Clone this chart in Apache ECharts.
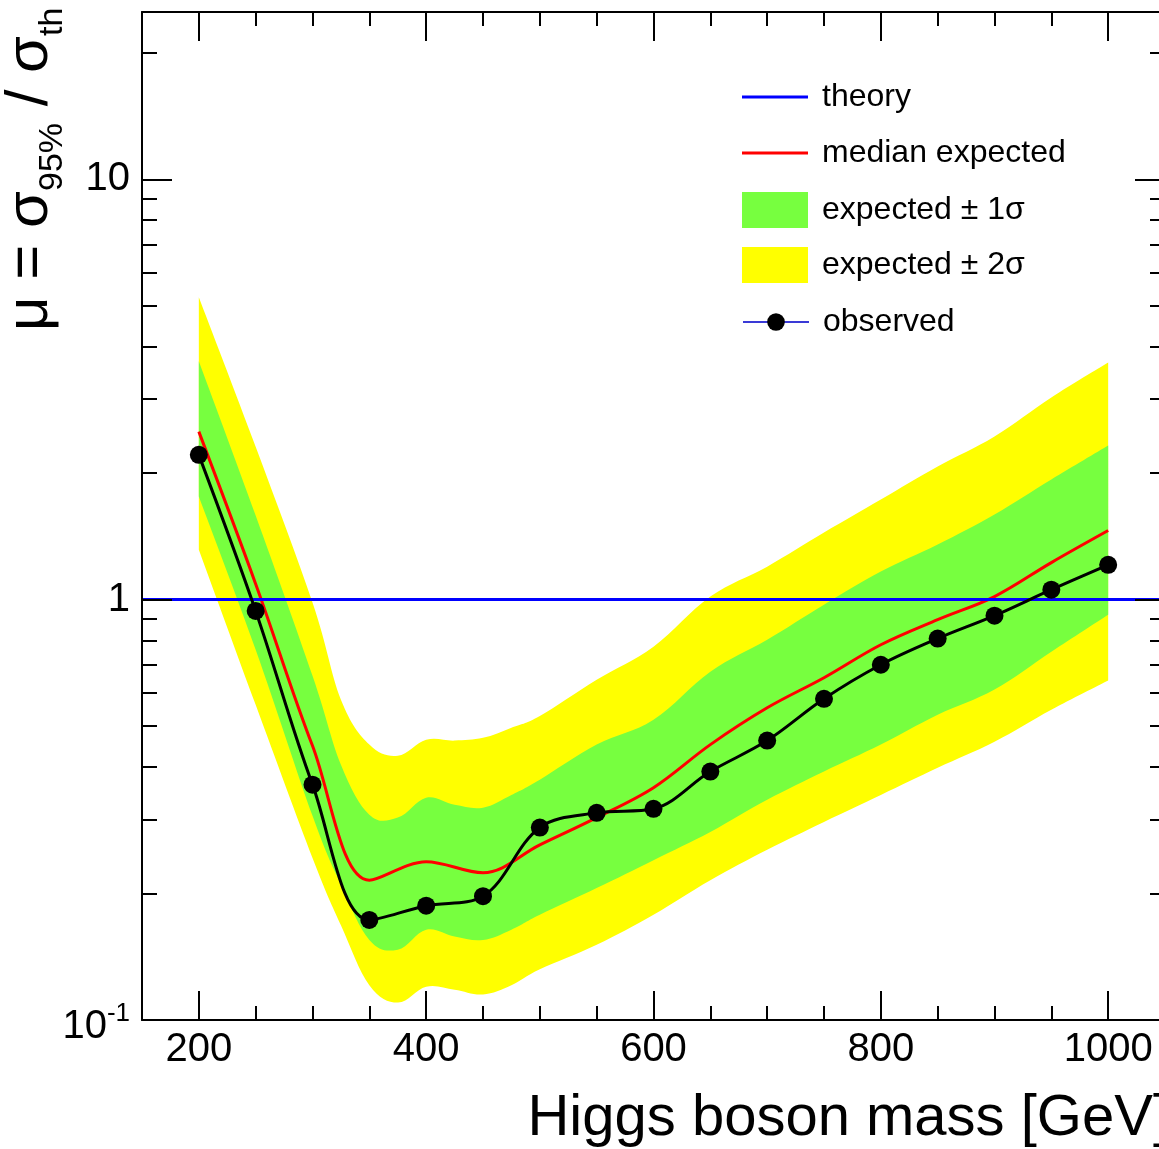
<!DOCTYPE html>
<html><head><meta charset="utf-8">
<script src="https://cdn.jsdelivr.net/npm/echarts@6/dist/echarts.min.js"></script>
<style>html,body{margin:0;padding:0;background:#fff;overflow:hidden}#c{width:1159px;height:1149px}</style>
</head><body><div id="c"></div>
<script>
// ---- data ----
const masses = [200,250,300,350,400,450,500,550,600,650,700,750,800,850,900,950,1000];
const observed = [2.21,0.94,0.363,0.173,0.187,0.197,0.287,0.311,0.318,0.390,0.462,0.581,0.700,0.808,0.916,1.056,1.21];
const medianExpected = [2.51,1.09,0.449,0.215,0.238,0.224,0.261,0.303,0.357,0.452,0.553,0.652,0.781,0.896,1.017,1.225,1.46];

const bandMasses = [200,250,300,325,350,375,400,425,450,475,500,550,600,650,700,750,800,850,900,950,1000];
const plus2Sigma  = [5.24,2.31,0.984,0.578,0.452,0.425,0.464,0.462,0.469,0.496,0.529,0.645,0.773,1.017,1.198,1.444,1.730,2.073,2.444,3.027,3.667];
const plus1Sigma  = [3.69,1.585,0.659,0.405,0.308,0.303,0.338,0.325,0.320,0.343,0.373,0.452,0.518,0.674,0.803,0.973,1.166,1.352,1.594,1.931,2.326];
const minus1Sigma = [1.759,0.760,0.306,0.210,0.155,0.147,0.164,0.158,0.155,0.164,0.178,0.206,0.240,0.280,0.334,0.390,0.452,0.532,0.611,0.752,0.921];
const minus2Sigma = [1.315,0.562,0.243,0.168,0.121,0.110,0.120,0.118,0.115,0.121,0.132,0.151,0.178,0.215,0.254,0.296,0.343,0.398,0.459,0.547,0.642];

const theoryValue = 1;

const xTickLabels = [200,400,600,800,1000];
const yMinorTicks = [0.2,0.3,0.4,0.5,0.6,0.7,0.8,0.9,2,3,4,5,6,7,8,9,20];

// ---- styling ----
const FONT = '"Liberation Sans", Arial, Helvetica, sans-serif';
const YELLOW = '#ffff00';
const GREEN = '#77ff3f';
const X_MIN = 150, X_MAX = 1050, Y_MIN = 0.1, Y_MAX = 25;
const LOG_MIN = Math.log10(Y_MIN), LOG_MAX = Math.log10(Y_MAX);
const yMinorLog = yMinorTicks.map(v => Math.log10(v));

const pair = (xs, ys) => xs.map((x, i) => [x, ys[i]]);

// smooth curve (cardinal spline -> cubic bezier) through pixel points
function curveThrough(pts) {
  const k = 0.18, f = v => v.toFixed(2);
  let s = '';
  for (let i = 0; i < pts.length - 1; i++) {
    const p0 = pts[Math.max(i - 1, 0)], p1 = pts[i], p2 = pts[i + 1], p3 = pts[Math.min(i + 2, pts.length - 1)];
    const c1 = [p1[0] + (p2[0] - p0[0]) * k, p1[1] + (p2[1] - p0[1]) * k];
    const c2 = [p2[0] - (p3[0] - p1[0]) * k, p2[1] - (p3[1] - p1[1]) * k];
    s += 'C' + f(c1[0]) + ',' + f(c1[1]) + ' ' + f(c2[0]) + ',' + f(c2[1]) + ' ' + f(p2[0]) + ',' + f(p2[1]);
  }
  return s;
}
// band between an upper and a lower edge, positioned through the chart's own axes
function bandSeries(name, hi, lo, color) {
  return {
    name: name, type: 'custom', coordinateSystem: 'cartesian2d',
    data: bandMasses.map((m, i) => [m, hi[i], lo[i]]),
    encode: {x: 0, y: [1, 2]},
    color: color, itemStyle: {color: color}, z: 1, silent: true,
    renderItem: function (params, api) {
      if (params.dataIndex !== 0) return null;
      const up = bandMasses.map((m, i) => api.coord([m, hi[i]]));
      const dn = bandMasses.map((m, i) => api.coord([m, lo[i]])).reverse();
      const d = 'M' + up[0][0].toFixed(2) + ',' + up[0][1].toFixed(2) + curveThrough(up) +
                'L' + dn[0][0].toFixed(2) + ',' + dn[0][1].toFixed(2) + curveThrough(dn) + 'Z';
      return {type: 'path', shape: {pathData: d}, style: {fill: color, stroke: null}};
    }
  };
}

const axisLineStyle = {color: '#000', width: 2};
const tickStyle = {color: '#000', width: 2};
const legendText = {fontSize: 32, color: '#000', fontFamily: FONT, padding: [0, 0, 0, 9]};
const lineIcon = 'path://M0,0L66,0L66,3L0,3Z';
function legendItem(top, itemHeight, item) {
  return {orient: 'vertical', left: 742, top: top, itemWidth: 66, itemHeight: itemHeight,
    selectedMode: false, padding: 0, textStyle: legendText, data: [item]};
}

const chart = echarts.init(document.getElementById('c'), null, {renderer: 'canvas', width: 1159, height: 1149});
chart.setOption({
  animation: false,
  backgroundColor: '#fff',
  grid: {left: 142, right: -6, top: 12, bottom: 129, containLabel: false, outerBoundsMode: 'none'},
  xAxis: [
    {type: 'value', position: 'bottom', min: X_MIN, max: X_MAX, interval: 50, z: 5,
     axisLine: {show: true, onZero: false, lineStyle: axisLineStyle},
     axisTick: {show: true, inside: true, length: 14, lineStyle: tickStyle},
     axisLabel: {show: true, margin: 10, fontSize: 40, color: '#000', fontFamily: FONT,
       formatter: v => xTickLabels.indexOf(v) >= 0 ? String(v) : ''},
     splitLine: {show: false},
     name: 'Higgs boson mass [GeV]', nameLocation: 'end', nameGap: 4,
     nameTextStyle: {fontSize: 58, color: '#000', fontFamily: FONT, align: 'right', verticalAlign: 'top', padding: [70, 0, 0, 0]}
    },
    {type: 'value', position: 'bottom', min: X_MIN, max: X_MAX, z: 5,
     axisLine: {show: false, onZero: false},
     axisTick: {show: true, inside: true, length: 29, customValues: xTickLabels, lineStyle: tickStyle},
     axisLabel: {show: false}, splitLine: {show: false}},
    {type: 'value', position: 'top', min: X_MIN, max: X_MAX, interval: 50, z: 5,
     axisLine: {show: true, onZero: false, lineStyle: axisLineStyle},
     axisTick: {show: true, inside: true, length: 14, lineStyle: tickStyle},
     axisLabel: {show: false}, splitLine: {show: false}},
    {type: 'value', position: 'top', min: X_MIN, max: X_MAX, z: 5,
     axisLine: {show: false, onZero: false},
     axisTick: {show: true, inside: true, length: 29, customValues: xTickLabels, lineStyle: tickStyle},
     axisLabel: {show: false}, splitLine: {show: false}}
  ],
  yAxis: [
    {type: 'log', logBase: 10, position: 'left', min: Y_MIN, max: Y_MAX, z: 5,
     axisLine: {show: true, onZero: false, lineStyle: axisLineStyle},
     axisTick: {show: true, inside: true, length: 30, lineStyle: tickStyle},
     axisLabel: {show: true, margin: 12, fontSize: 40, color: '#000', fontFamily: FONT,
       formatter: function (v) {
         if (Math.abs(v - 0.1) < 1e-9) return '{c|10}{s|-1}';
         if (Math.abs(v - 1) < 1e-9) return '{b|1}';
         if (Math.abs(v - 10) < 1e-9) return '{b|10}';
         return '';
       },
       rich: {
         b: {fontSize: 40, color: '#000', fontFamily: FONT},
         c: {fontSize: 40, color: '#000', fontFamily: FONT, padding: [14, 0, 0, 0]},
         s: {fontSize: 26, color: '#000', fontFamily: FONT, padding: [0, 0, 12, 0]}
       }},
     splitLine: {show: false}, minorTick: {show: false}},
    {type: 'value', position: 'left', min: LOG_MIN, max: LOG_MAX, z: 5,
     axisLine: {show: false, onZero: false},
     axisTick: {show: true, inside: true, length: 15, customValues: yMinorLog, lineStyle: tickStyle},
     axisLabel: {show: false}, splitLine: {show: false}},
    {type: 'log', logBase: 10, position: 'right', min: Y_MIN, max: Y_MAX, z: 5,
     axisLine: {show: true, onZero: false, lineStyle: axisLineStyle},
     axisTick: {show: true, inside: true, length: 30, lineStyle: tickStyle},
     axisLabel: {show: false}, splitLine: {show: false}},
    {type: 'value', position: 'right', min: LOG_MIN, max: LOG_MAX, z: 5,
     axisLine: {show: false, onZero: false},
     axisTick: {show: true, inside: true, length: 15, customValues: yMinorLog, lineStyle: tickStyle},
     axisLabel: {show: false}, splitLine: {show: false}}
  ],
  legend: [
    legendItem(81, 36, {name: 'theory', icon: lineIcon}),
    legendItem(137, 36, {name: 'median expected', icon: lineIcon}),
    legendItem(192, 36, {name: 'expected ± 1σ', icon: 'rect'}),
    legendItem(247, 36, {name: 'expected ± 2σ', icon: 'rect'}),
    legendItem(306, 22, {name: 'observed', lineStyle: {color: '#3a3ad6', width: 2}, itemStyle: {color: '#000'}})
  ],
  graphic: [
    {type: 'text', x: 30, y: 331, rotation: Math.PI / 2, z: 10,
     style: {
       text: '{m|μ = σ}{s|95%}{m| / σ}{s|th}',
       align: 'left', verticalAlign: 'middle', fill: '#000',
       rich: {
         m: {fontSize: 60, fontFamily: FONT, fill: '#000'},
         s: {fontSize: 34, fontFamily: FONT, fill: '#000', padding: [46, 0, 0, 0]}
       }
     }}
  ],
  series: [
    bandSeries('expected ± 2σ', plus2Sigma, minus2Sigma, YELLOW),
    bandSeries('expected ± 1σ', plus1Sigma, minus1Sigma, GREEN),
    {name: 'theory', type: 'line', data: [], color: '#0000ff', z: 3,
     lineStyle: {color: '#0000ff', width: 3}, itemStyle: {color: '#0000ff'},
     markLine: {silent: true, symbol: ['none', 'none'], label: {show: false},
       lineStyle: {color: '#0000ff', width: 3, type: 'solid'},
       emphasis: {disabled: true},
       data: [{yAxis: theoryValue}]}},
    {name: 'median expected', type: 'line', data: pair(masses, medianExpected), smooth: 0.35,
     symbol: 'none', showSymbol: false, color: '#ff0000', itemStyle: {color: '#ff0000'},
     lineStyle: {color: '#ff0000', width: 3}, z: 4, silent: true},
    {name: 'observed', type: 'line', data: pair(masses, observed), smooth: 0.35,
     symbol: 'circle', symbolSize: 18, color: '#000', itemStyle: {color: '#000'},
     lineStyle: {color: '#000', width: 3}, z: 5, silent: true}
  ]
});
</script>
</body></html>
